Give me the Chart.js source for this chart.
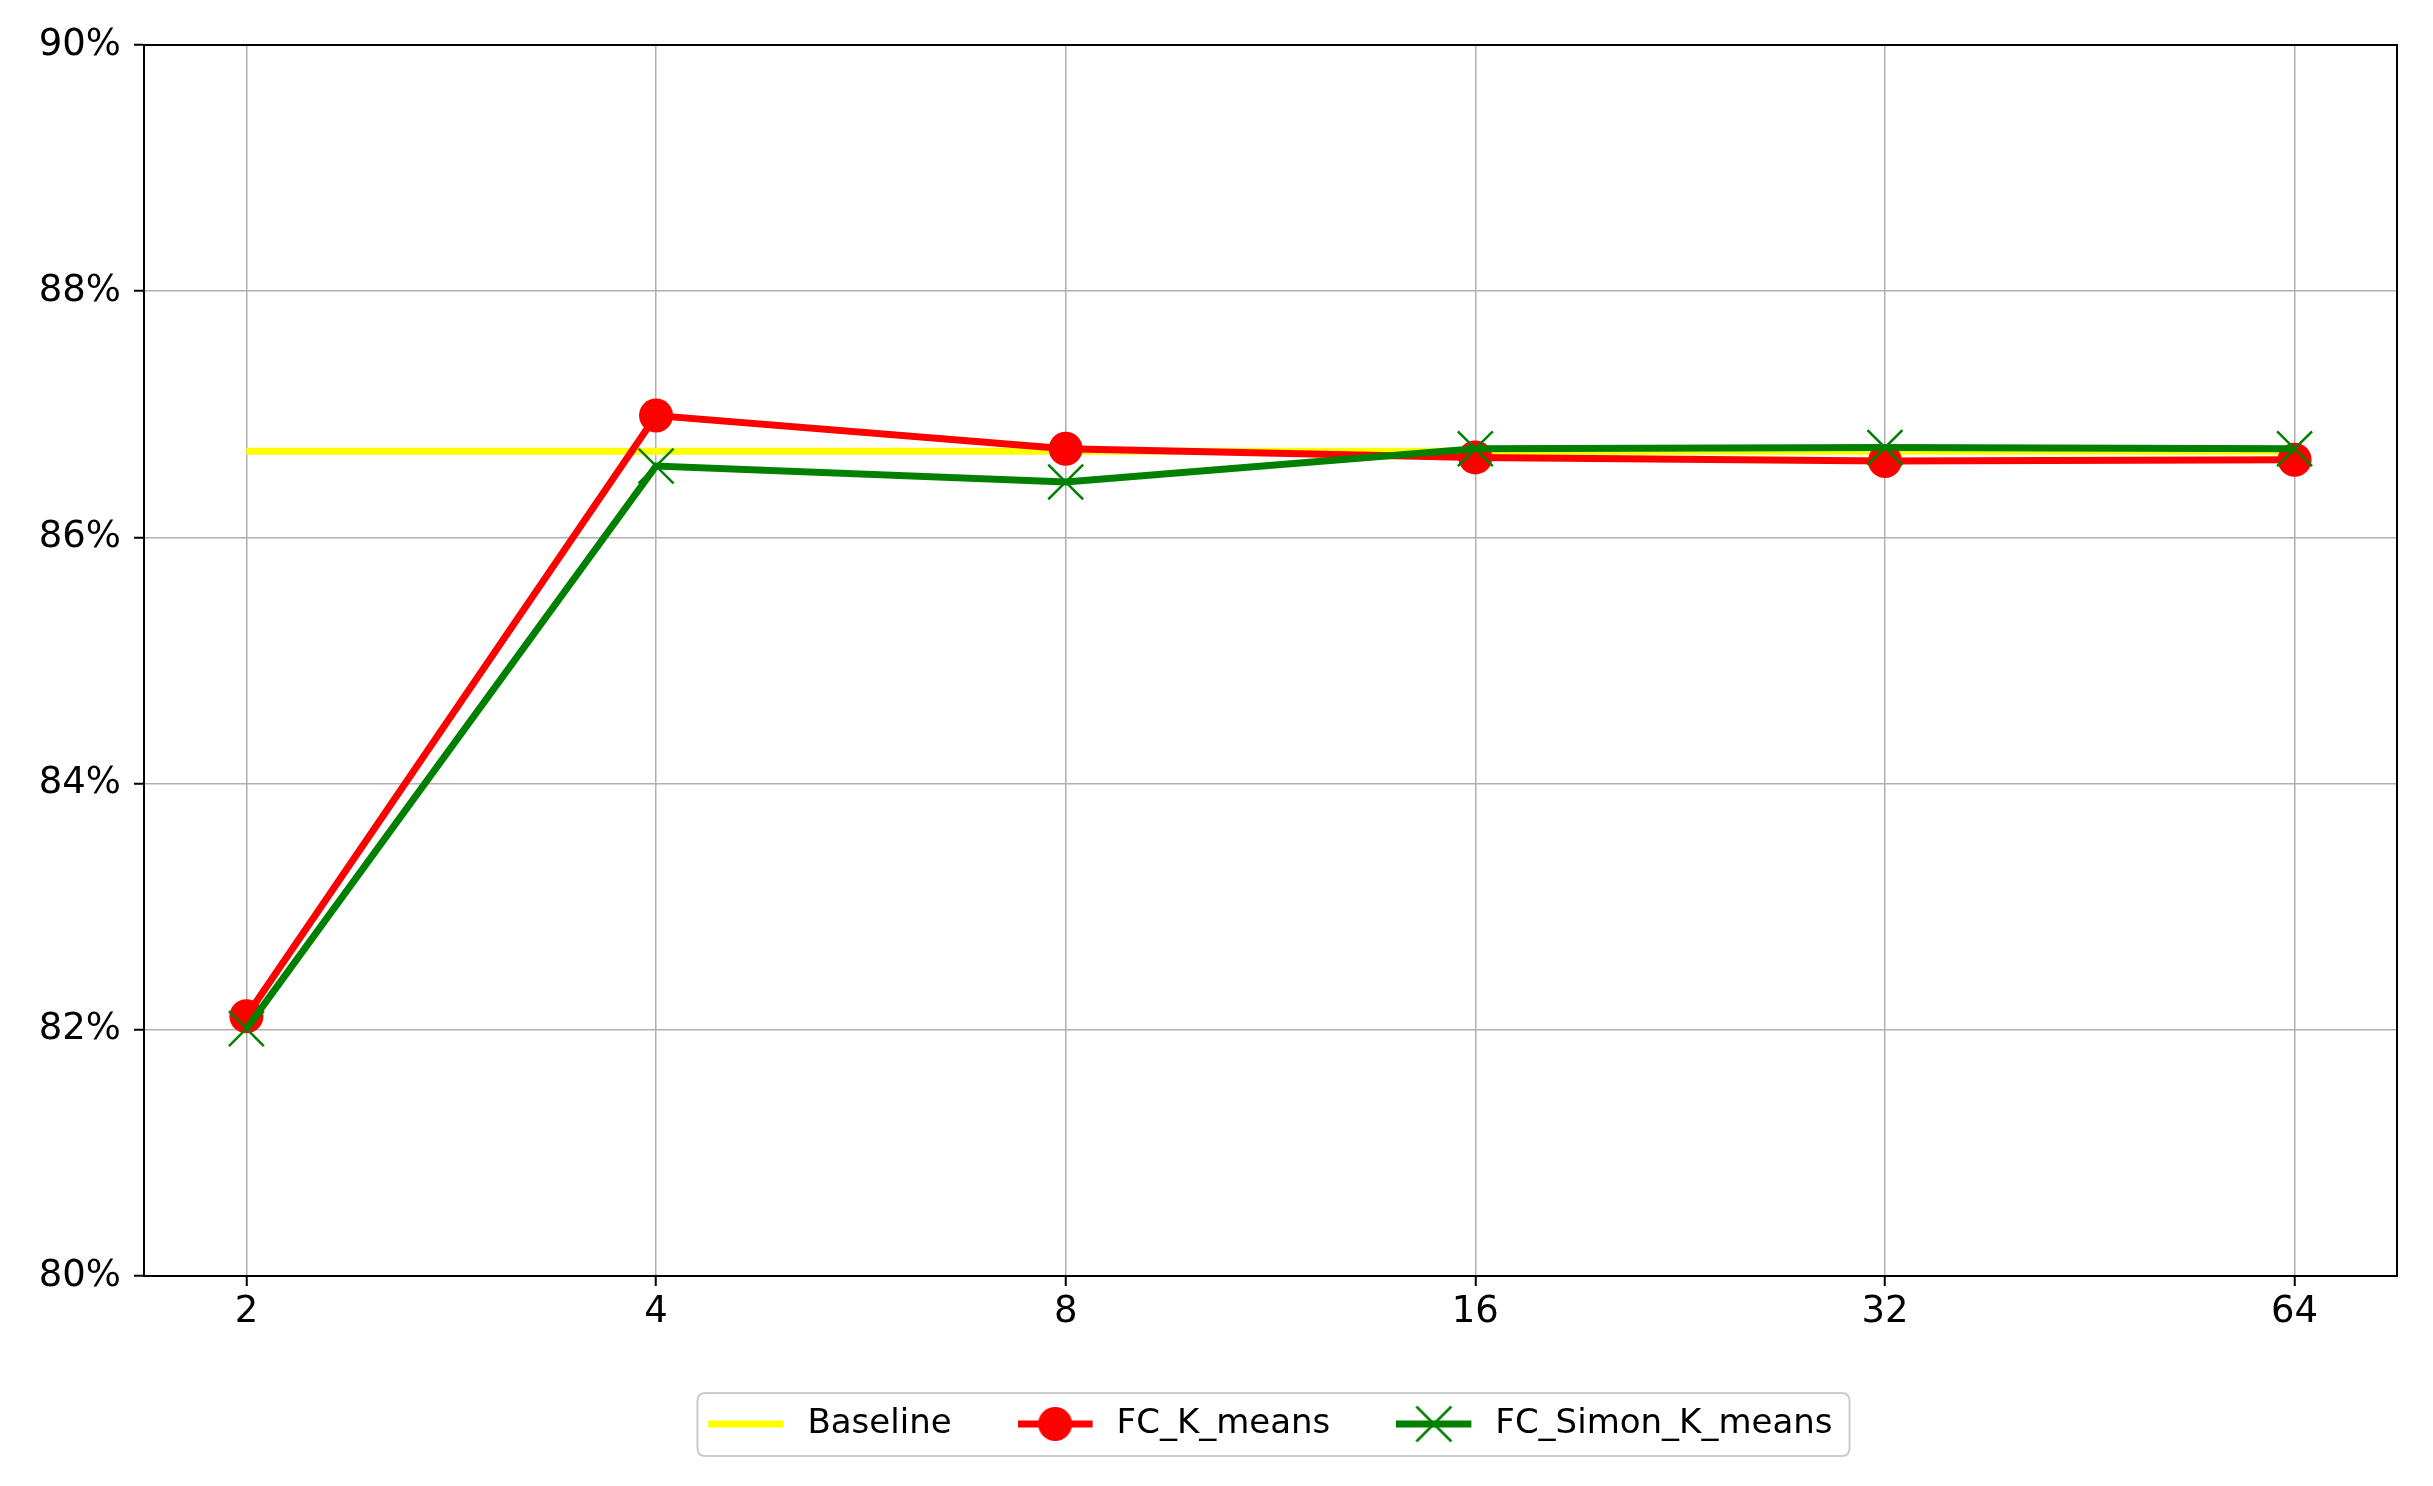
<!DOCTYPE html>
<html>
<head>
<meta charset="utf-8">
<script src="https://cdn.jsdelivr.net/npm/chart.js@4/dist/chart.umd.min.js"></script>
<style>
  html, body { margin: 0; padding: 0; background: #ffffff; }
  #wrap { width: 2433px; height: 1486px; }
</style>
</head>
<body>
<div id="wrap"><canvas id="c" width="2433" height="1486"></canvas></div>
<script>
// ---- data ----
const categories = ['2', '4', '8', '16', '32', '64'];
const baseline   = [86.70, 86.70, 86.70, 86.70, 86.70, 86.70];
const fcKmeans   = [82.11, 86.99, 86.72, 86.65, 86.62, 86.63];
const fcSimon    = [82.01, 86.58, 86.45, 86.72, 86.73, 86.72];
const yTicks     = [80, 82, 84, 86, 88, 90];
const seriesNames = ['Baseline', 'FC_K_means', 'FC_Simon_K_means'];

const FONT = "'DejaVu Sans', 'Liberation Sans', sans-serif";
const xPos = categories.map((c, i) => i + 1);
const toPts = arr => arr.map((v, i) => ({ x: xPos[i], y: v }));

// legend handles (line + marker), drawn on small canvases
function makeHandle(kind) {
  const cv = document.createElement('canvas');
  cv.width = 82; cv.height = 44;
  const g = cv.getContext('2d');
  const cy = 22, x0 = 0, x1 = 75, cx = 37.5;
  g.lineCap = 'butt';
  if (kind === 0) {
    g.strokeStyle = '#ffff00'; g.lineWidth = 7;
    g.beginPath(); g.moveTo(x0, cy); g.lineTo(x1, cy); g.stroke();
  } else if (kind === 1) {
    g.strokeStyle = '#ff0000'; g.lineWidth = 7;
    g.beginPath(); g.moveTo(x0, cy); g.lineTo(x1, cy); g.stroke();
    g.fillStyle = '#ff0000';
    g.beginPath(); g.arc(cx, cy, 17, 0, Math.PI * 2); g.fill();
  } else {
    g.strokeStyle = '#008000'; g.lineWidth = 7;
    g.beginPath(); g.moveTo(x0, cy); g.lineTo(x1, cy); g.stroke();
    g.lineWidth = 2.5; const h = 17.5;
    g.beginPath();
    g.moveTo(cx - h, cy - h); g.lineTo(cx + h, cy + h);
    g.moveTo(cx - h, cy + h); g.lineTo(cx + h, cy - h);
    g.stroke();
  }
  return cv;
}
const handles = [makeHandle(0), makeHandle(1), makeHandle(2)];

const framePlugin = {
  id: 'framePlugin',
  afterDraw(chart) {
    const ctx = chart.ctx, a = chart.chartArea;
    ctx.save();
    ctx.strokeStyle = '#000000';
    ctx.lineWidth = 2;
    ctx.strokeRect(a.left, a.top, a.right - a.left, a.bottom - a.top);
    // legend frame
    const lg = chart.legend;
    if (lg && lg.legendHitBoxes && lg.legendHitBoxes.length) {
      const hb = lg.legendHitBoxes;
      const first = hb[0], last = hb[hb.length - 1];
      const cy = first.top + first.height / 2;
      const l = first.left - 11, r = last.left + last.width + 17;
      const t = cy - 31, b = cy + 32, rad = 8;
      ctx.strokeStyle = 'rgba(204,204,204,1)';
      ctx.lineWidth = 2;
      ctx.beginPath();
      ctx.moveTo(l + rad, t);
      ctx.lineTo(r - rad, t); ctx.quadraticCurveTo(r, t, r, t + rad);
      ctx.lineTo(r, b - rad); ctx.quadraticCurveTo(r, b, r - rad, b);
      ctx.lineTo(l + rad, b); ctx.quadraticCurveTo(l, b, l, b - rad);
      ctx.lineTo(l, t + rad); ctx.quadraticCurveTo(l, t, l + rad, t);
      ctx.stroke();
    }
    ctx.restore();
  }
};

new Chart(document.getElementById('c'), {
  type: 'line',
  data: {
    datasets: [
      { label: seriesNames[0], data: toPts(baseline), borderColor: '#ffff00', backgroundColor: '#ffff00',
        borderWidth: 7, pointRadius: 0, order: 3 },
      { label: seriesNames[1], data: toPts(fcKmeans), borderColor: '#ff0000', backgroundColor: '#ff0000',
        borderWidth: 7, pointStyle: 'circle', pointRadius: 17, pointBorderWidth: 0,
        pointBackgroundColor: '#ff0000', pointBorderColor: '#ff0000', order: 2 },
      { label: seriesNames[2], data: toPts(fcSimon), borderColor: '#008000', backgroundColor: '#008000',
        borderWidth: 7, pointStyle: 'crossRot', pointRadius: 24.7, pointBorderWidth: 2.5,
        pointBorderColor: '#008000', pointBackgroundColor: '#008000', order: 1 }
    ]
  },
  options: {
    responsive: false,
    animation: false,
    devicePixelRatio: 1,
    events: [],
    layout: { padding: { left: 0, right: 36, top: 45, bottom: 35 } },
    elements: { line: { tension: 0 } },
    scales: {
      x: {
        type: 'linear',
        min: 0.75, max: 6.25,
        afterBuildTicks: s => { s.ticks = xPos.map(v => ({ value: v })); },
        afterFit: s => { s.height = 65; },
        ticks: {
          autoSkip: false, maxRotation: 0, padding: 4,
          font: { family: FONT, size: 37 }, color: '#000000',
          callback: v => categories[Math.round(v) - 1]
        },
        grid: { color: '#b0b0b0', lineWidth: 1.5, tickColor: '#000000', tickLength: 10, tickWidth: 2 },
        border: { color: '#000000', width: 2 }
      },
      y: {
        min: 80, max: 90,
        afterBuildTicks: s => { s.ticks = yTicks.map(v => ({ value: v })); },
        afterFit: s => { s.width = 144; },
        ticks: {
          padding: 13,
          font: { family: FONT, size: 37 }, color: '#000000',
          callback: v => v + '%'
        },
        grid: { color: '#b0b0b0', lineWidth: 1.5, tickColor: '#000000', tickLength: 10, tickWidth: 2 },
        border: { color: '#000000', width: 2 }
      }
    },
    plugins: {
      title: { display: false },
      tooltip: { enabled: false },
      legend: {
        position: 'bottom',
        fullSize: false,
        labels: {
          usePointStyle: true,
          pointStyleWidth: 82,
          padding: 66,
          color: '#000000',
          font: { family: FONT, size: 34 },
          sort: (a, b) => a.datasetIndex - b.datasetIndex,
          generateLabels: chart => {
            const items = Chart.defaults.plugins.legend.labels.generateLabels(chart);
            items.forEach(it => { it.pointStyle = handles[it.datasetIndex]; it.lineWidth = 0; });
            return items;
          }
        }
      }
    }
  },
  plugins: [framePlugin]
});
</script>
</body>
</html>
